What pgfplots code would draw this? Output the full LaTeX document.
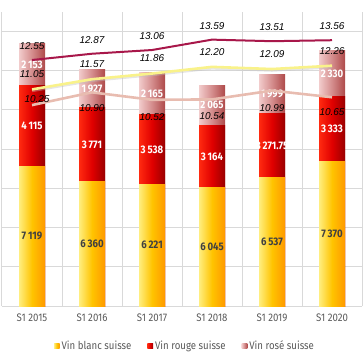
\documentclass[border=0pt]{standalone}
\usepackage{pgfplots}
\pgfplotsset{compat=1.18}
\usepackage{pgfplotstable}
\usepackage{fontspec}
\setmainfont{Fira Sans}[FakeStretch=0.88]
\newfontfamily\numfont{Liberation Sans}
\definecolor{gridgray}{HTML}{D9D9D9}
\definecolor{txtgray}{HTML}{595959}
\definecolor{lblgray}{HTML}{404040}
\definecolor{bl1}{HTML}{FFEE80}
\definecolor{bl2}{HTML}{FFC400}
\definecolor{bl3}{HTML}{FF9900}
\definecolor{rg1}{HTML}{FF2A10}
\definecolor{rg2}{HTML}{E00000}
\definecolor{rg3}{HTML}{9A0000}
\definecolor{rs1}{HTML}{F2CCCC}
\definecolor{rs2}{HTML}{D48C8C}
\definecolor{rs3}{HTML}{AE4A4A}
\definecolor{lmaroon}{HTML}{A8174A}
\definecolor{lyellow}{HTML}{F9F28A}
\definecolor{lpink}{HTML}{E8BCB0}

\pgfplotstableread{
x blanc rouge rose
0 7119 4115 2153
1 6360 3771 1927
2 6221 3538 2165
3 6045 3164 2065
4 6537 3271.75 1999
5 7370 3333 2330
}\bars

\pgfplotstableread{
x maroon yellow pink dy dx
0 12.55 11.05 10.25 6 5
1 12.87 11.57 10.90 -16 0
2 13.06 11.86 10.52 -17 0
3 13.59 12.20 10.54 -17 0
4 13.51 12.09 10.99 -17 0
5 13.56 12.26 10.65 -15 0
}\prices

\pgfplotsset{
  blancstyle/.style={draw=none, left color=bl1, right color=bl3, middle color=bl2},
  rougestyle/.style={draw=none, left color=rg1, right color=rg3, middle color=rg2},
  rosestyle/.style={draw=none, left color=rs1, right color=rs3, middle color=rs2},
  mybar/.style={ybar, bar width=26bp, bar shift=0pt, forget plot},
}

\begin{document}
\begin{tikzpicture}
\begin{axis}[
  name=main,
  scale only axis,
  width=360bp, height=294bp,
  xmin=-0.5, xmax=5.5,
  ymin=0, ymax=15000,
  scaled y ticks=false,
  xtick={0,...,5},
  xticklabels={S1 2015,S1 2016,S1 2017,S1 2018,S1 2019,S1 2020},
  minor xtick={-0.5,0.5,...,5.5},
  ytick={0,2000,...,14000},
  yticklabels={},
  xminorgrids=true,
  ymajorgrids=true,
  major grid style={gridgray, line width=1bp},
  minor grid style={gridgray, line width=1bp},
  tick style={draw=none},
  axis line style={draw=none},
  xticklabel style={font=\fontsize{11}{13}\selectfont, text=txtgray, yshift=-4bp},
  /pgf/number format/assume math mode=true,
  /pgf/number format/1000 sep={\,},
  legend style={at={(rel axis cs:0.5,0)}, anchor=center, yshift=-40bp, xshift=3bp,
     draw=none, fill=none, font=\fontsize{11}{13}\selectfont, text=txtgray,
     legend columns=-1,
     /tikz/every even column/.append style={column sep=14bp}},
  legend image code/.code={\path[#1] (0bp,-2.8bp) rectangle (5.6bp,2.8bp);},
]
\addlegendimage{blancstyle}\addlegendentry{Vin blanc suisse}
\addlegendimage{rougestyle}\addlegendentry{Vin rouge suisse}
\addlegendimage{rosestyle}\addlegendentry{Vin rosé suisse}
\pgfplotsinvokeforeach{0,...,5}{
  \addplot[mybar, rosestyle] table[x=x, y expr=\thisrow{blanc}+\thisrow{rouge}+\thisrow{rose},
     restrict x to domain=#1:#1]{\bars};
  \addplot[mybar, rougestyle] table[x=x, y expr=\thisrow{blanc}+\thisrow{rouge},
     restrict x to domain=#1:#1]{\bars};
  \addplot[mybar, blancstyle] table[x=x, y=blanc,
     restrict x to domain=#1:#1]{\bars};
}
% value labels, centred in each segment
\addplot[draw=none, no markers, forget plot, nodes near coords, point meta={\thisrow{blanc}},
  every node near coord/.append style={anchor=center, text=lblgray, font=\fontsize{11}{13}\selectfont\bfseries}]
  table[x=x, y expr=\thisrow{blanc}/2]{\bars};
\addplot[draw=none, no markers, forget plot, nodes near coords, point meta={\thisrow{rouge}},
  every node near coord/.append style={anchor=center, text=white, font=\fontsize{11}{13}\selectfont\bfseries}]
  table[x=x, y expr=\thisrow{blanc}+\thisrow{rouge}/2]{\bars};
\addplot[draw=none, no markers, forget plot, nodes near coords, point meta={\thisrow{rose}},
  every node near coord/.append style={anchor=center, text=white, font=\fontsize{11}{13}\selectfont\bfseries}]
  table[x=x, y expr=\thisrow{blanc}+\thisrow{rouge}+\thisrow{rose}/2]{\bars};
\end{axis}

\begin{axis}[
  scale only axis,
  width=360bp, height=294bp,
  xmin=-0.5, xmax=5.5,
  ymin=0, ymax=15,
  hide axis,
  point meta=y,
  /pgf/number format/assume math mode=true,
  /pgf/number format/fixed,
  /pgf/number format/fixed zerofill,
  /pgf/number format/precision=2,
  every node near coord/.append style={anchor=center, font=\numfont\itshape\fontsize{10}{12}\selectfont, text=black},
]
\addplot[gray!50, opacity=0.4, line width=2.5bp, yshift=-1.5bp, no markers] table[x=x,y=yellow]{\prices};
\addplot[lpink, line width=2.6bp, no markers, nodes near coords,
   visualization depends on=\thisrow{dy}\as\dy,
   visualization depends on=\thisrow{dx}\as\dx,
   every node near coord/.append style={yshift=\dy bp, xshift=\dx bp}] table[x=x,y=pink]{\prices};
\addplot[lyellow, line width=2.6bp, no markers, nodes near coords,
   every node near coord/.append style={yshift=15bp}] table[x=x,y=yellow]{\prices};
\addplot[lmaroon, line width=2bp, no markers, nodes near coords,
   every node near coord/.append style={yshift=14bp}] table[x=x,y=maroon]{\prices};
\end{axis}
\pgfresetboundingbox
\path ([xshift=-2bp,yshift=-57bp]main.south west) rectangle ([xshift=1bp,yshift=12bp]main.north east);
\end{tikzpicture}
\end{document}
